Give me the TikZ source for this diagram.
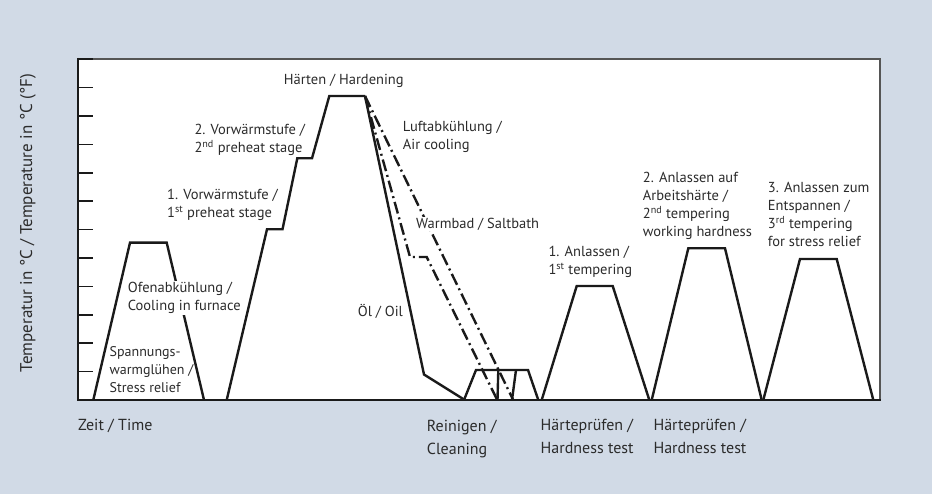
\documentclass[tikz,border=0pt]{standalone}
\usepackage{fontspec}
\setmainfont{PT Sans}
\definecolor{bgc}{HTML}{D1DAE6}
\definecolor{txt}{HTML}{2B2B2B}
\definecolor{ln}{HTML}{1A1A1A}
\definecolor{frm}{HTML}{555555}
\tikzset{
  curve/.style={draw=ln,line width=2.4pt,line join=miter},
  dashdot/.style={curve,dash pattern=on 12pt off 4pt on 2pt off 4pt},
  lab/.style={text=txt,font=\fontsize{14.5}{18}\selectfont,align=left,inner sep=1pt,anchor=base west},
  wlab/.style={lab,fill=white},
  blab/.style={text=txt,font=\fontsize{16}{23}\selectfont,align=left,inner sep=0pt,anchor=base west},
  tick/.style={draw=ln,line width=1.6pt}
}
\begin{document}
\begin{tikzpicture}[x=1pt,y=-1pt]
\fill[bgc] (0,0) rectangle (932,494);
\useasboundingbox (0,0) rectangle (932,494);
\fill[white] (78,58) rectangle (880,400);
\draw[frm,line width=1.6pt] (78,58.8) -- (880,58.8) -- (880,400);
% ticks
\foreach \k in {1,...,12} \draw[tick] (78,400-28.4*\k) -- (93,400-28.4*\k);
\draw[ln,line width=2.6pt] (78,57.9) -- (78,400) -- (881,400);
% stress relief
\draw[curve] (93.3,400) -- (130,242.7) -- (166.7,242.7) -- (204,400);
% heating
\draw[curve] (226.7,400) -- (267,229.3) -- (282.5,229.3) -- (297.3,158.3) -- (312,158.3) -- (329.3,96) -- (365,96);
% cooling
\draw[curve] (365,96) -- (424,374.5) -- (464,399.5);
\draw[dashdot] (365,96) -- (410,257) -- (426.7,257) -- (497,399.5);
\draw[dashdot] (365,96) -- (513,399.5);
% cleaning
\draw[curve] (464,400) -- (476,370) -- (528,370) -- (538.3,400);
\draw[curve] (497.5,400) -- (498.3,370);
\draw[curve] (512,400) -- (516,370);
% tempering
\draw[curve] (541.7,400) -- (576.7,286) -- (612.7,286) -- (649.3,400);
\draw[curve] (651.7,400) -- (688.3,248.3) -- (725,248.3) -- (761.7,400);
\draw[curve] (763.3,400) -- (800,259) -- (836.7,259) -- (873.3,400);
% labels (base anchor = baseline of last line)
\node[lab] (haerten) at (282.7,85) {Härten / Hardening};
\node[lab] (vw2) at (193.3,153) {2. Vorwärmstufe /\\2\textsuperscript{nd} preheat stage};
\node[lab] (vw1) at (166,218) {1. Vorwärmstufe /\\1\textsuperscript{st} preheat stage};
\node[lab] (luft) at (401.7,149.5) {Luftabkühlung /\\Air cooling};
\node[wlab] (warm) at (415,228.3) {Warmbad / Saltbath};
\node[lab] (oel) at (356.7,316.7) {Öl / Oil};
\node[wlab] (ofen) at (126.7,310.5) {Ofenabkühlung /\\Cooling in furnace};
\node[lab,font=\fontsize{14}{18}\selectfont] (spann) at (108.5,392.5) {Spannungs-\\warmglühen /\\Stress relief};
\node[lab] (anl1) at (547.3,275) {1. Anlassen /\\1\textsuperscript{st} tempering};
\node[lab] (anl2) at (641.7,237) {2. Anlassen auf\\Arbeitshärte /\\2\textsuperscript{nd} tempering\\working hardness};
\node[lab] (anl3) at (766.7,246.7) {3. Anlassen zum\\Entspannen /\\3\textsuperscript{rd} tempering\\for stress relief};
\node[blab] (zeit) at (78,430) {Zeit / Time};
\node[blab] (rein) at (426.7,454) {Reinigen /\\Cleaning};
\node[blab] (hp1) at (540.5,453.3) {Härteprüfen /\\Hardness test};
\node[blab] (hp2) at (653.3,453.3) {Härteprüfen /\\Hardness test};
\node[text=txt,font=\fontsize{17}{18}\selectfont,rotate=90,inner sep=0pt] (ylab) at (28,223) {Temperatur in °C / Temperature in °C (°F)};
\end{tikzpicture}
\end{document}
